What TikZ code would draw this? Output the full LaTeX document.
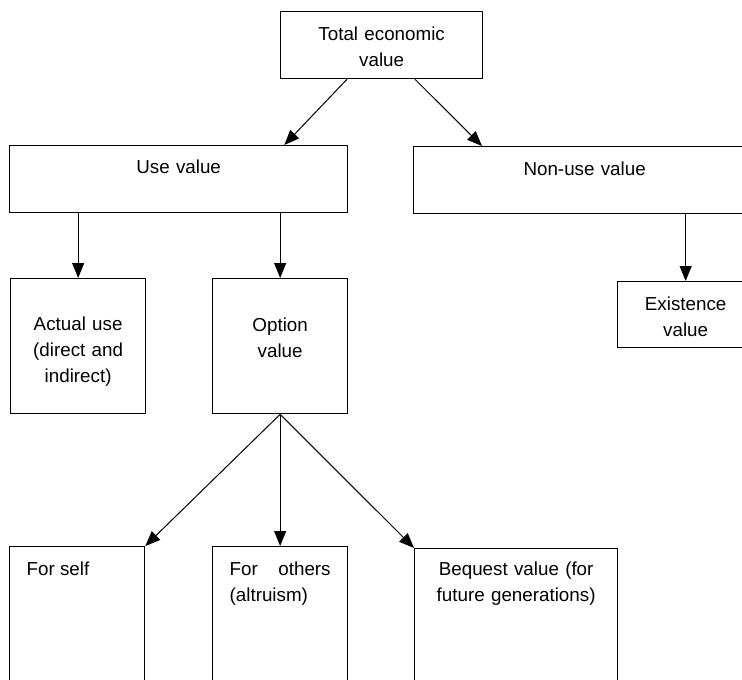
\documentclass[tikz,border=0pt]{standalone}
\usepackage{fontspec}
\setmainfont{Liberation Sans}
\usetikzlibrary{arrows.meta}

\begin{document}
\begin{tikzpicture}
      [ x=1pt, y=-1pt
      , box/.style={draw, line width=1.3pt, inner sep=0pt, anchor=north west, align=center, font=\fontsize{18.8}{26}\selectfont}
      , leaf/.style={box, inner xsep=17pt, align=justify, text width=101pt, text height=29pt, text depth=105pt}
      , link/.style={-{Triangle[length=15pt, width=12pt]}, line width=1pt}
      ]
    \useasboundingbox (0,0) rectangle (742,680);
    \clip (0,0) rectangle (742,680);

    \node[box, text width=202pt, text height=29pt, text depth=38pt] (TEV) at (280,11) {Total economic\\ value};
    \node[box, text width=338pt, text height=28pt, text depth=39pt] (UV) at (9,145) {Use value};
    \node[box, text width=342pt, text height=29pt, text depth=38pt] (NUV) at (413,146) {Non-use value};

    \node[box, text width=135pt, text height=52pt, text depth=83pt] (AU) at (10,278) {Actual use\\ (direct and\\ indirect)};
    \node[box, text width=135pt, text height=53pt, text depth=82pt] (OV) at (212,278) {Option\\ value};
    \node[box, text width=136pt, text height=29pt, text depth=37pt] (EV) at (617,281) {Existence\\ value};

    \node[leaf] (FS) at (9,546) {For self};
    \node[leaf] (FO) at (212,546) {For others (altruism)};
    \node[box, text width=203pt, text height=27pt, text depth=105pt] (BV) at (414,548) {Bequest value (for\\ future generations)};

    \path[link]
    ([xshift=67pt]TEV.south west) edge ([xshift=-64pt]UV.north east)
    ([xshift=135pt]TEV.south west) edge ([xshift=69pt]NUV.north west)

    (AU.north |- UV.south) edge (AU.north)
    (OV.north |- UV.south) edge (OV.north)
    (EV.north |- NUV.south) edge (EV.north)

    (OV.south) edge (FS.north east)
    (OV.south) edge (FO.north)
    (OV.south) edge (BV.north west);

\end{tikzpicture}
\end{document}
